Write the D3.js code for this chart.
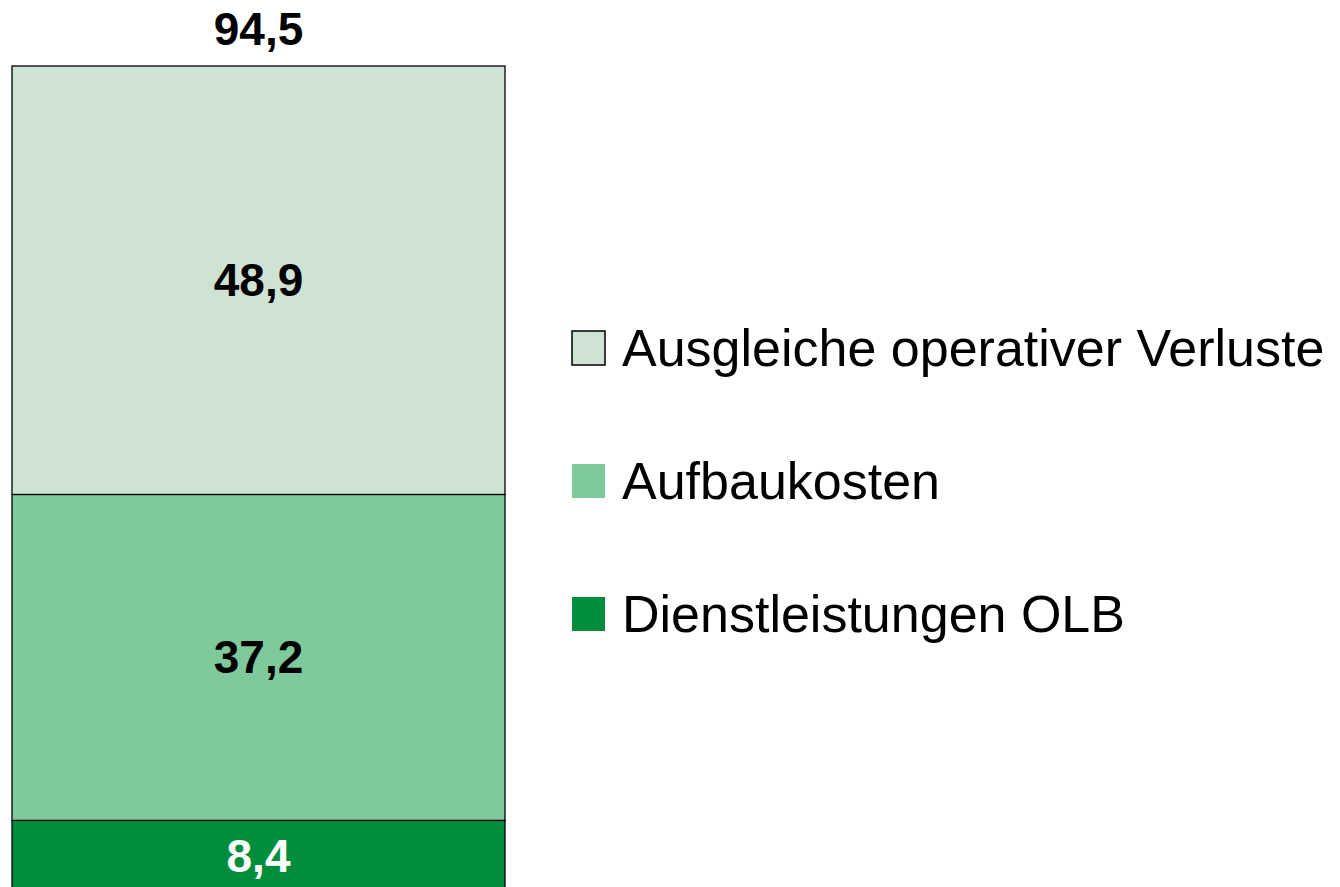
<!DOCTYPE html>
<html>
<head>
<meta charset="utf-8">
<script src="https://cdn.jsdelivr.net/npm/d3@7"></script>
<style>
  html, body { margin: 0; padding: 0; background: #fff; }
  svg { display: block; }
  text { font-family: "Liberation Sans", Arial, sans-serif; }
</style>
</head>
<body>
<svg id="chart" width="1340" height="887"></svg>
<script>
// Data (bottom to top in the stack)
const categories = ["Dienstleistungen OLB", "Aufbaukosten", "Ausgleiche operativer Verluste"];
const values = [8.4, 37.2, 48.9];
const valueLabels = ["8,4", "37,2", "48,9"];
const totalLabel = "94,5";
const colors = ["#008e3c", "#7fca9c", "#cfe3d5"];
const labelColors = ["#ffffff", "#000000", "#000000"];
const legendOrder = ["Ausgleiche operativer Verluste", "Aufbaukosten", "Dienstleistungen OLB"];

const svg = d3.select("#chart");
const total = d3.sum(values);

const x = d3.scaleBand().domain(["bar"]).range([12, 505]).paddingInner(0).paddingOuter(0);
const y = d3.scaleLinear().domain([0, 94.5]).range([894, 66]);

// stack
let acc = 0;
const segs = values.map((v, i) => {
  const s = { key: categories[i], y0: acc, y1: acc + v, v, i };
  acc += v;
  return s;
});

const g = svg.append("g");
g.selectAll("rect.seg").data(segs).join("rect")
  .attr("class", "seg")
  .attr("x", x("bar"))
  .attr("width", x.bandwidth())
  .attr("y", d => y(d.y1))
  .attr("height", d => y(d.y0) - y(d.y1))
  .attr("fill", d => colors[d.i])
  .attr("stroke", "#000")
  .attr("stroke-width", 1.3);

g.selectAll("text.val").data(segs).join("text")
  .attr("class", "val")
  .attr("x", x("bar") + x.bandwidth() / 2)
  .attr("y", d => d.i === 0 ? (y(d.y0) + y(d.y1)) / 2 + 15 : (y(d.y0) + y(d.y1)) / 2 + 16)
  .attr("text-anchor", "middle")
  .attr("font-size", 46)
  .attr("font-weight", "bold")
  .attr("fill", d => labelColors[d.i])
  .text(d => valueLabels[d.i]);

svg.append("text")
  .attr("x", x("bar") + x.bandwidth() / 2)
  .attr("y", y(total) - 21)
  .attr("text-anchor", "middle")
  .attr("font-size", 46)
  .attr("font-weight", "bold")
  .attr("fill", "#000")
  .text(totalLabel);

// legend
const ly = d3.scalePoint().domain(legendOrder).range([348, 614]);
const lg = svg.append("g").selectAll("g").data(legendOrder).join("g")
  .attr("transform", d => `translate(0,${ly(d)})`);
lg.append("rect")
  .attr("x", 572).attr("y", -17).attr("width", 33).attr("height", 34)
  .attr("fill", d => colors[categories.indexOf(d)])
  .attr("stroke", d => categories.indexOf(d) === 2 ? "#000" : "none")
  .attr("stroke-width", 1.5);
lg.append("text")
  .attr("x", 622).attr("y", 18)
  .attr("font-size", 52)
  .attr("fill", "#000")
  .text(d => d);
</script>
</body>
</html>
